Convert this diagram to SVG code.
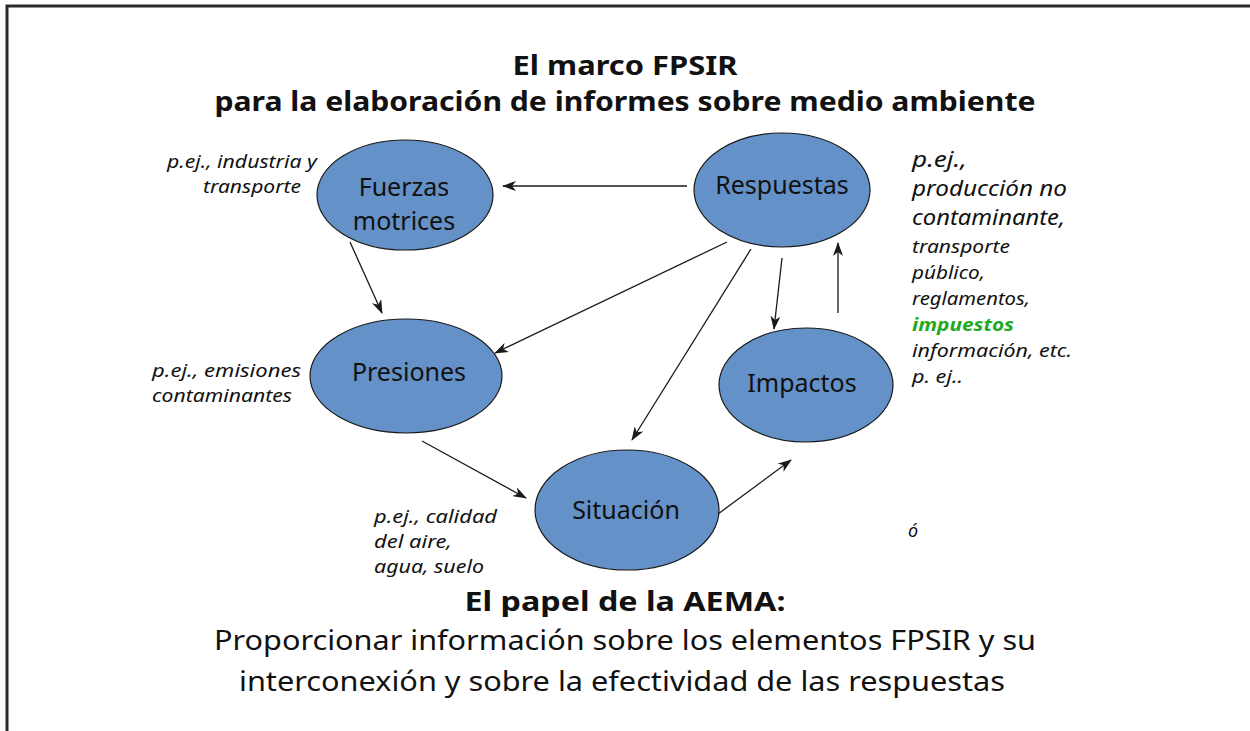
<svg xmlns="http://www.w3.org/2000/svg" width="1250" height="731" viewBox="0 0 1250 731">
<defs>
<marker id="ah" viewBox="0 0 14 10" refX="13" refY="5" markerWidth="14" markerHeight="10" markerUnits="userSpaceOnUse" orient="auto">
<path d="M0,0 L14,5 L0,10 L4,5 z" fill="#1a1a1a"/>
</marker>
<style>
.node{fill:#6391c8;stroke:#1a1a1a;stroke-width:1.2}
.lbl{font-family:"Noto Sans","Open Sans",sans-serif;font-size:25px;fill:#111;text-anchor:middle}
.ann{font-family:"Noto Sans","Open Sans",sans-serif;font-size:18px;font-style:italic;fill:#111}
.annL{font-family:"Noto Sans","Open Sans",sans-serif;font-size:21px;font-style:italic;fill:#111}
.title{font-family:"Noto Sans","Open Sans",sans-serif;font-size:26px;font-weight:bold;fill:#111;text-anchor:middle}
.body{font-family:"Noto Sans","Open Sans",sans-serif;font-size:28px;fill:#111;text-anchor:middle}
.conn line{stroke:#1a1a1a;stroke-width:1.3;marker-end:url(#ah)}
</style>
</defs>
<rect width="1250" height="731" fill="#fff"/>
<path d="M7,731 L7,6 L1250,6" fill="none" stroke="#2a2a2a" stroke-width="3"/>

<g id="title">
<text class="title" x="625" y="75" textLength="225" lengthAdjust="spacingAndGlyphs">El marco FPSIR</text>
<text class="title" x="625" y="111" textLength="821" lengthAdjust="spacingAndGlyphs">para la elaboración de informes sobre medio ambiente</text>
</g>

<g id="fuerzas">
<ellipse class="node" cx="405" cy="195" rx="88" ry="55"/>
<text class="lbl" x="404" y="196">Fuerzas</text>
<text class="lbl" x="404" y="230">motrices</text>
</g>
<g id="respuestas">
<ellipse class="node" cx="782" cy="190" rx="88" ry="57"/>
<text class="lbl" x="782" y="194">Respuestas</text>
</g>
<g id="presiones">
<ellipse class="node" cx="406" cy="376" rx="96" ry="57"/>
<text class="lbl" x="409" y="381">Presiones</text>
</g>
<g id="impactos">
<ellipse class="node" cx="806" cy="385" rx="87" ry="57"/>
<text class="lbl" x="802" y="392">Impactos</text>
</g>
<g id="situacion">
<ellipse class="node" cx="627" cy="510" rx="92" ry="60"/>
<text class="lbl" x="626" y="519">Situación</text>
</g>

<g id="connectors" class="conn">
<line x1="687" y1="186" x2="503" y2="186"/>
<line x1="350" y1="242" x2="382" y2="313"/>
<line x1="727" y1="242" x2="495" y2="353"/>
<line x1="751" y1="249" x2="632" y2="440"/>
<line x1="782" y1="258" x2="774" y2="329"/>
<line x1="838" y1="313" x2="838" y2="243"/>
<line x1="422" y1="441" x2="526" y2="498"/>
<line x1="718" y1="514" x2="791" y2="460"/>
</g>

<g id="annotations">
<text class="ann" x="167" y="168" textLength="150" lengthAdjust="spacingAndGlyphs">p.ej., industria y</text>
<text class="ann" x="203" y="193" textLength="98" lengthAdjust="spacingAndGlyphs">transporte</text>
<text class="ann" x="152" y="377" textLength="149" lengthAdjust="spacingAndGlyphs">p.ej., emisiones</text>
<text class="ann" x="152" y="402" textLength="140" lengthAdjust="spacingAndGlyphs">contaminantes</text>
<text class="ann" x="374" y="523" textLength="123" lengthAdjust="spacingAndGlyphs">p.ej., calidad</text>
<text class="ann" x="374" y="548" textLength="78" lengthAdjust="spacingAndGlyphs">del aire,</text>
<text class="ann" x="374" y="573" textLength="110" lengthAdjust="spacingAndGlyphs">agua, suelo</text>
<text class="ann" x="908" y="537">ó</text>
<text class="annL" x="912" y="167" textLength="55" lengthAdjust="spacingAndGlyphs">p.ej.,</text>
<text class="annL" x="912" y="196" textLength="155" lengthAdjust="spacingAndGlyphs">producción no</text>
<text class="annL" x="912" y="225" textLength="153" lengthAdjust="spacingAndGlyphs">contaminante,</text>
<text class="ann" x="912" y="253" textLength="98" lengthAdjust="spacingAndGlyphs">transporte</text>
<text class="ann" x="912" y="279" textLength="73" lengthAdjust="spacingAndGlyphs">público,</text>
<text class="ann" x="912" y="305" textLength="118" lengthAdjust="spacingAndGlyphs">reglamentos,</text>
<text class="ann" x="912" y="331" textLength="102" lengthAdjust="spacingAndGlyphs" style="fill:#1faa1f;font-weight:bold">impuestos</text>
<text class="ann" x="912" y="357" textLength="160" lengthAdjust="spacingAndGlyphs">información, etc.</text>
<text class="ann" x="912" y="383" textLength="51" lengthAdjust="spacingAndGlyphs">p. ej..</text>
</g>

<g id="footer">
<text class="title" x="625" y="611" textLength="321" lengthAdjust="spacingAndGlyphs">El papel de la AEMA:</text>
<text class="body" x="625" y="650" textLength="822" lengthAdjust="spacingAndGlyphs">Proporcionar información sobre los elementos FPSIR y su</text>
<text class="body" x="622" y="691" textLength="766" lengthAdjust="spacingAndGlyphs">interconexión y sobre la efectividad de las respuestas</text>
</g>
</svg>
